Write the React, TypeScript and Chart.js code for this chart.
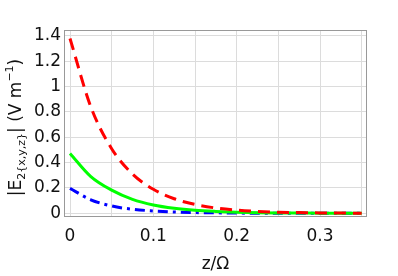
import React, { useEffect, useRef } from "react";
import { Chart, registerables } from "chart.js";

Chart.register(...registerables);

const zValues = [0, 0.025, 0.05, 0.075, 0.1, 0.125, 0.15, 0.175, 0.2, 0.225, 0.25, 0.275, 0.3, 0.325, 0.35];
const seriesY = [1.38, 0.84, 0.51, 0.31, 0.19, 0.115, 0.07, 0.042, 0.025, 0.015, 0.009, 0.006, 0.003, 0.002, 0.001];
const seriesX = [0.473, 0.29, 0.183, 0.11, 0.066, 0.04, 0.024, 0.015, 0.009, 0.005, 0.003, 0.002, 0.001, 0.001, 0.0];
const seriesZ = [0.197, 0.107, 0.058, 0.032, 0.019, 0.011, 0.006, 0.004, 0.002, 0.001, 0.001, 0.0, 0.0, 0.0, 0.0];

const xGridTicks = [0, 0.05, 0.1, 0.15, 0.2, 0.25, 0.3, 0.35];
const xLabelTicks = [0, 0.1, 0.2, 0.3];
const yTicks = [0, 0.2, 0.4, 0.6, 0.8, 1, 1.2, 1.4];

const FONT = "DejaVu Sans";

const framePlugin = {
  id: "frame",
  afterDraw(chart: any) {
    const { ctx, chartArea } = chart;
    const { left, top, right, bottom } = chartArea;
    ctx.save();
    ctx.strokeStyle = "#999999";
    ctx.lineWidth = 1;
    ctx.strokeRect(left + 0.5, top + 0.5, right - left - 1, bottom - top - 1);
    // y-axis title with sub/superscripts
    ctx.fillStyle = "#111";
    ctx.textBaseline = "alphabetic";
    const big = `17px "${FONT}"`;
    const small = `11px "${FONT}"`;
    const pieces: [string, string, number][] = [
      ["|E", big, 0],
      ["2{x,y,z}", small, 4],
      ["| (V m", big, 0],
      ["\u22121", small, -8],
      [")", big, 0],
    ];
    let total = 0;
    for (const [t, f] of pieces) {
      ctx.font = f;
      total += ctx.measureText(t).width;
    }
    ctx.translate(21, (top + bottom) / 2 + 4);
    ctx.rotate(-Math.PI / 2);
    let x = -total / 2;
    for (const [t, f, dy] of pieces) {
      ctx.font = f;
      ctx.fillText(t, x, dy);
      x += ctx.measureText(t).width;
    }
    ctx.restore();
    // x title
    ctx.save();
    ctx.fillStyle = "#111";
    ctx.font = big;
    ctx.textAlign = "center";
    ctx.textBaseline = "middle";
    ctx.fillText("z/\u03A9", (left + right) / 2, 265);
    ctx.restore();
  },
};

export default function App() {
  const ref = useRef<HTMLCanvasElement>(null);
  useEffect(() => {
    if (!ref.current) return;
    const mk = (ys: number[]) => zValues.map((z, i) => ({ x: z, y: ys[i] }));
    const chart = new Chart(ref.current, {
      type: "line",
      data: {
        datasets: [
          {
            data: mk(seriesY),
            borderColor: "#ff0000",
            borderWidth: 3,
            borderDash: [12, 7],
            pointRadius: 0,
            cubicInterpolationMode: "monotone",
            fill: false,
          },
          {
            data: mk(seriesX),
            borderColor: "#00ff00",
            borderWidth: 3,
            pointRadius: 0,
            cubicInterpolationMode: "monotone",
            fill: false,
          },
          {
            data: mk(seriesZ),
            borderColor: "#0000ff",
            borderWidth: 3,
            borderDash: [10, 5, 3, 5],
            pointRadius: 0,
            cubicInterpolationMode: "monotone",
            fill: false,
          },
        ],
      },
      options: {
        animation: false,
        responsive: false,
        layout: { padding: { left: 0, top: 30, right: 31, bottom: 0 } },
        plugins: { legend: { display: false }, tooltip: { enabled: false } },
        scales: {
          x: {
            type: "linear",
            min: -0.0072,
            max: 0.3564,
            afterFit: (s: any) => {
              s.height = 59;
            },
            afterBuildTicks: (s: any) => {
              s.ticks = xGridTicks.map((v) => ({ value: v }));
            },
            ticks: {
              autoSkip: false,
              maxRotation: 0,
              padding: 9,
              color: "#111",
              font: { family: FONT, size: 17 },
              callback: (v: any) => {
                const n = Number(v);
                return xLabelTicks.some((t) => Math.abs(t - n) < 1e-9) ? String(n) : "";
              },
            },
            grid: { color: "#dcdcdc", drawTicks: false, lineWidth: 1 },
            border: { display: false },
          },
          y: {
            type: "linear",
            min: -0.029,
            max: 1.447,
            afterFit: (s: any) => {
              s.width = 64;
            },
            afterBuildTicks: (s: any) => {
              s.ticks = yTicks.map((v) => ({ value: v }));
            },
            ticks: {
              autoSkip: false,
              padding: 3,
              color: "#111",
              font: { family: FONT, size: 17 },
              callback: (v: any) => String(Number(v)),
            },
            grid: { color: "#dcdcdc", drawTicks: false, lineWidth: 1 },
            border: { display: false },
          },
        },
      },
      plugins: [framePlugin],
    });
    return () => chart.destroy();
  }, []);
  return (
    <div style={{ position: "fixed", left: 0, top: 0, width: 398, height: 276, background: "#fff" }}>
      <canvas ref={ref} width={398} height={276} style={{ width: 398, height: 276 }} />
    </div>
  );
}
